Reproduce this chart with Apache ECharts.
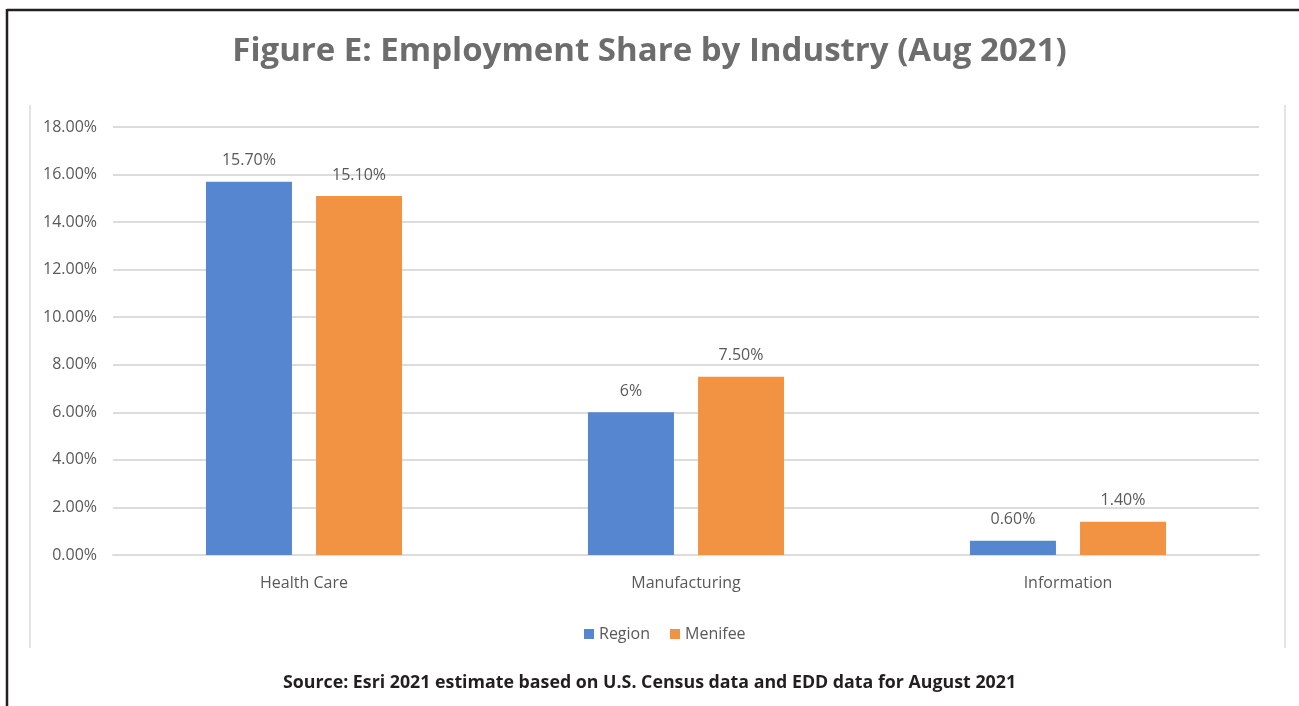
<!DOCTYPE html>
<html>
<head>
<meta charset="utf-8">
<script src="https://cdn.jsdelivr.net/npm/echarts@6/dist/echarts.min.js"></script>
<style>
  html, body { margin: 0; padding: 0; background: #ffffff; }
  #chart { width: 1299px; height: 706px; }
</style>
</head>
<body>
<div id="chart"></div>
<script>
// Employment share by industry, August 2021 (percent)
const categories = ['Health Care', 'Manufacturing', 'Information'];
const regionShare = [15.7, 6, 0.6];
const menifeeShare = [15.1, 7.5, 1.4];
const seriesNames = ['Region', 'Menifee'];
const yTicks = { min: 0, max: 18, interval: 2 };

const titleText = 'Figure E: Employment Share by Industry (Aug 2021)';
const sourceText = 'Source: Esri 2021 estimate based on U.S. Census data and EDD data for August 2021';

const labelColor = '#595959';
const labelFont = '"Open Sans", "Noto Sans", sans-serif';

function pctLabel(v) {
  return Number.isInteger(v) ? v + '%' : v.toFixed(2) + '%';
}

const chart = echarts.init(document.getElementById('chart'), null, { renderer: 'canvas' });

const barLabel = {
  show: true,
  position: 'top',
  distance: 13,
  color: labelColor,
  fontFamily: labelFont,
  fontSize: 16,
  formatter: p => pctLabel(p.value)
};

chart.setOption({
  backgroundColor: '#ffffff',
  animation: false,
  title: [
    {
      text: titleText,
      left: 'center',
      top: 30,
      textStyle: {
        color: '#6d6d6d',
        fontFamily: '"Open Sans", sans-serif',
        fontWeight: 700,
        fontSize: 33
      }
    },
    {
      text: sourceText,
      left: 'center',
      top: 669,
      textStyle: {
        color: '#231f20',
        fontFamily: '"Open Sans", sans-serif',
        fontWeight: 700,
        fontSize: 17.8
      }
    }
  ],
  graphic: [
    // outer frame: top and left rules
    { type: 'line', silent: true, shape: { x1: 7, y1: 10, x2: 1299, y2: 10 },
      style: { stroke: '#231f20', lineWidth: 2.5 } },
    { type: 'line', silent: true, shape: { x1: 7, y1: 9, x2: 7, y2: 706 },
      style: { stroke: '#231f20', lineWidth: 2.5 } },
    // chart area side rules
    { type: 'line', silent: true, shape: { x1: 30, y1: 105, x2: 30, y2: 648 },
      style: { stroke: '#e3e3e3', lineWidth: 2 } },
    { type: 'line', silent: true, shape: { x1: 1285, y1: 105, x2: 1285, y2: 648 },
      style: { stroke: '#e3e3e3', lineWidth: 2 } }
  ],
  legend: {
    data: seriesNames,
    bottom: 59,
    left: 579,
    icon: 'rect',
    itemWidth: 10,
    itemHeight: 10,
    itemGap: 20,
    textStyle: { color: labelColor, fontFamily: labelFont, fontSize: 16 }
  },
  grid: { left: 113, right: 40, top: 127, bottom: 151, containLabel: false },
  xAxis: {
    type: 'category',
    data: categories,
    axisLine: { show: true, lineStyle: { color: '#dcdcdc', width: 2 } },
    axisTick: { show: false },
    axisLabel: { color: labelColor, fontFamily: labelFont, fontSize: 16, margin: 20 }
  },
  yAxis: {
    type: 'value',
    min: yTicks.min,
    max: yTicks.max,
    interval: yTicks.interval,
    axisLine: { show: false },
    axisTick: { show: false },
    splitLine: { lineStyle: { color: '#dcdcdc', width: 2 } },
    axisLabel: {
      color: labelColor, fontFamily: labelFont, fontSize: 16, margin: 16,
      formatter: v => v.toFixed(2) + '%'
    }
  },
  series: [
    {
      name: seriesNames[0],
      type: 'bar',
      data: regionShare,
      barWidth: 86,
      barGap: '28%',
      itemStyle: { color: '#5586cf' },
      label: barLabel
    },
    {
      name: seriesNames[1],
      type: 'bar',
      data: menifeeShare,
      barWidth: 86,
      barGap: '28%',
      itemStyle: { color: '#f29343' },
      label: barLabel
    }
  ]
});
</script>
</body>
</html>
